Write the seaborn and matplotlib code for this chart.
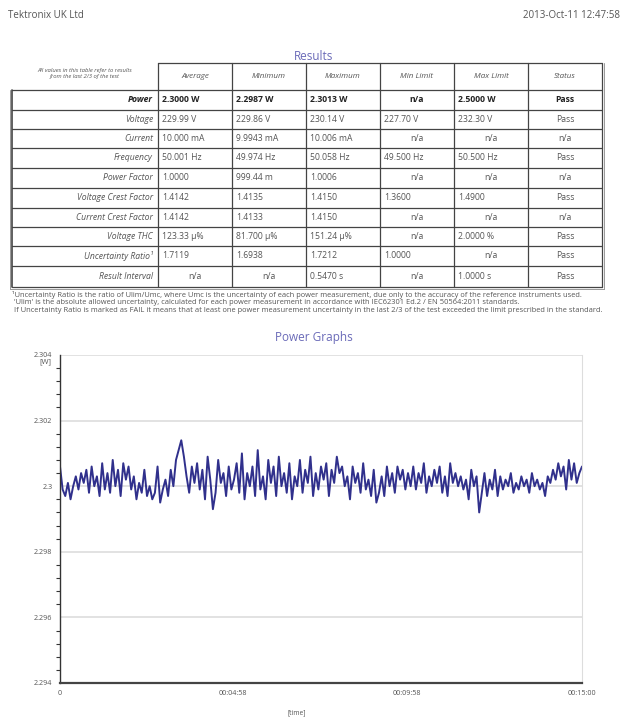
import numpy as np
import pandas as pd
import seaborn as sns
import matplotlib
matplotlib.use("Agg")
import matplotlib.pyplot as plt

# ---- report header ----
company = "Tektronix UK Ltd"
stamp = "2013-Oct-11 12:47:58"

# ---- results table ----
col_names = ["Average", "Minimum", "Maximum", "Min Limit", "Max Limit", "Status"]
row_names = ["Power", "Voltage", "Current", "Frequency", "Power Factor",
             "Voltage Crest Factor", "Current Crest Factor", "Voltage THC",
             "Uncertainty Ratio\u00b9", "Result Interval"]
average = ["2.3000 W", "229.99 V", "10.000 mA", "50.001 Hz", "1.0000", "1.4142",
           "1.4142", "123.33 \u00b5%", "1.7119", "n/a"]
minimum = ["2.2987 W", "229.86 V", "9.9943 mA", "49.974 Hz", "999.44 m", "1.4135",
           "1.4133", "81.700 \u00b5%", "1.6938", "n/a"]
maximum = ["2.3013 W", "230.14 V", "10.006 mA", "50.058 Hz", "1.0006", "1.4150",
           "1.4150", "151.24 \u00b5%", "1.7212", "0.5470 s"]
min_limit = ["n/a", "227.70 V", "n/a", "49.500 Hz", "n/a", "1.3600", "n/a", "n/a",
             "1.0000", "n/a"]
max_limit = ["2.5000 W", "232.30 V", "n/a", "50.500 Hz", "n/a", "1.4900", "n/a",
             "2.0000 %", "n/a", "1.0000 s"]
status = ["Pass", "Pass", "n/a", "Pass", "n/a", "Pass", "n/a", "Pass", "Pass", "Pass"]
corner_note = "All values in this table refer to results\nfrom the last 2/3 of the test"
footnotes = [
    "\u00b9Uncertainty Ratio is the ratio of Ulim/Umc, where Umc is the uncertainty of each power measurement, due only to the accuracy of the reference instruments used.",
    " 'Ulim' is the absolute allowed uncertainty, calculated for each power measurement in accordance with IEC62301 Ed.2 / EN 50564:2011 standards.",
    " If Uncertainty Ratio is marked as FAIL it means that at least one power measurement uncertainty in the last 2/3 of the test exceeded the limit prescribed in the standard.",
]

# ---- power graph ----
power_w = [
    2.3006, 2.2999, 2.2997, 2.3001, 2.2996, 2.3000, 2.3003, 2.2999, 2.3004, 2.3001,
    2.3005, 2.2998, 2.3006, 2.3000, 2.3003, 2.2997, 2.3007, 2.2999, 2.3004, 2.2998,
    2.3008, 2.3000, 2.3005, 2.2997, 2.3007, 2.3002, 2.3006, 2.2999, 2.3003, 2.2996,
    2.3001, 2.2998, 2.3005, 2.2997,
    2.3000, 2.2996, 2.2998, 2.3006, 2.2995, 2.2999, 2.3002, 2.2997, 2.3005, 2.3000,
    2.3008, 2.3011, 2.3014, 2.3009, 2.3003, 2.2998, 2.3006, 2.3001, 2.3007, 2.2999,
    2.3005, 2.2996, 2.3009, 2.3002, 2.2993, 2.2998, 2.3008, 2.3001, 2.3004, 2.2997,
    2.3006, 2.2999, 2.3002,
    2.3007, 2.2998, 2.3010, 2.2996, 2.3004, 2.3000, 2.3006, 2.2997, 2.3011, 2.2999,
    2.3003, 2.2996, 2.3008, 2.3001, 2.3006, 2.2997, 2.3009, 2.3000, 2.3004, 2.2998,
    2.3007, 2.2996, 2.3003, 2.3000, 2.3008, 2.2998, 2.3005, 2.3001, 2.3009, 2.2997,
    2.3004, 2.2999, 2.3006,
    2.3002, 2.3007, 2.2997, 2.3005, 2.3001, 2.3009, 2.3004, 2.3006, 2.3000, 2.3003,
    2.2996, 2.3006, 2.3001, 2.3004, 2.2998, 2.3007, 2.2999, 2.3002, 2.2997, 2.3005,
    2.2995, 2.2998, 2.3003, 2.2997, 2.3006, 2.3000, 2.3004, 2.2998, 2.3006, 2.3002,
    2.3005, 2.2999, 2.3004,
    2.3000, 2.3006, 2.2999, 2.3004, 2.3001, 2.3007, 2.2998, 2.3003, 2.3000, 2.3005,
    2.3001, 2.3006, 2.2998, 2.3003, 2.2997, 2.3007, 2.3001, 2.3004, 2.3000, 2.3003,
    2.2999, 2.3002, 2.2996, 2.3005, 2.3000, 2.3003, 2.2992, 2.2998, 2.3004, 2.2997,
    2.3002, 2.2999, 2.3005,
    2.2997, 2.3003, 2.2999, 2.3002, 2.3000, 2.3004, 2.2998, 2.3001, 2.2999, 2.3003,
    2.3000, 2.3002, 2.2998, 2.3004, 2.3000, 2.3002, 2.2999, 2.3001, 2.2997, 2.3003,
    2.3001, 2.3005, 2.3002, 2.3007, 2.3003, 2.3006, 2.2999, 2.3008, 2.3002, 2.3007,
    2.3001, 2.3004, 2.3006,
]
test_length_s = 900
x_ticks = [0, 298, 598, 900]
x_tick_labels = ["0", "00:04:58", "00:09:58", "00:15:00"]
y_ticks = [2.294, 2.296, 2.298, 2.300, 2.302, 2.304]
y_tick_labels = ["2.294", "2.296", "2.298", "2.3", "2.302", "2.304"]

sns.set_style("white")
plt.rcParams['font.family'] = ['Open Sans', 'DejaVu Sans']

W, H = 628, 719
fig = plt.figure(figsize=(W / 100, H / 100), dpi=100)
txt = "#555555"
blue = "#6a6ab8"

# page overlay in pixel units for header + table
page = fig.add_axes([0, 0, 1, 1])
page.set_xlim(0, W)
page.set_ylim(H, 0)
page.axis("off")

page.text(8, 15, company, fontsize=7, color=txt, va="center")
page.text(620, 15, stamp, fontsize=7, color=txt, va="center", ha="right")
page.text(314, 57, "Results", fontsize=8.5, color=blue, va="center", ha="center")

col_edges = [12, 158, 232, 306, 380, 454, 528, 602]
row_edges = [90, 110, 129, 148, 168, 188, 208, 227, 246, 266, 287]
head_top = 63
lc = "#444444"

# header boxes (no box over the corner cell)
page.plot([col_edges[1], col_edges[-1]], [head_top, head_top], color=lc, lw=0.9)
for x in col_edges[1:]:
    page.plot([x, x], [head_top, row_edges[-1]], color=lc, lw=0.9)
page.plot([col_edges[-1] + 2, col_edges[-1] + 2], [head_top, row_edges[-1] + 2], color="#999999", lw=0.7)
page.plot([col_edges[0], col_edges[0]], [row_edges[0], row_edges[-1]], color=lc, lw=1.2)
page.plot([col_edges[0] - 2, col_edges[0] - 2], [row_edges[0], row_edges[-1] + 2], color="#999999", lw=0.7)
page.plot([col_edges[0] - 2, col_edges[-1] + 2], [row_edges[-1] + 2, row_edges[-1] + 2], color="#999999", lw=0.7)
for y in row_edges:
    page.plot([col_edges[0], col_edges[-1]], [y, y], color=lc, lw=0.9)

page.text(col_edges[1] - 73, (head_top + row_edges[0]) / 2 - 3, corner_note, fontsize=4.2,
          color=txt, ha="center", va="center", style="italic", linespacing=1.3)
for j, name in enumerate(col_names):
    cx = (col_edges[j + 1] + col_edges[j + 2]) / 2
    page.text(cx, (head_top + row_edges[0]) / 2, name, fontsize=5.8, color=txt,
              ha="center", va="center", style="italic")

columns = [average, minimum, maximum, min_limit, max_limit, status]
for i, rname in enumerate(row_names):
    cy = (row_edges[i] + row_edges[i + 1]) / 2
    bold = "bold" if i == 0 else "normal"
    tc = "#222222" if i == 0 else txt
    page.text(col_edges[1] - 5, cy, rname, fontsize=6.2, color=tc,
              ha="right", va="center", style="italic", weight=bold)
    for j, col in enumerate(columns):
        val = col[i]
        left = col_edges[j + 1]
        right = col_edges[j + 2]
        if j == 5 or val == "n/a":
            page.text((left + right) / 2, cy, val, fontsize=6.2, ha="center", va="center",
                      color=tc, weight=bold)
        else:
            page.text(left + 4, cy, val, fontsize=6.2, ha="left", va="center",
                      color=tc, weight=bold)

for k, note in enumerate(footnotes):
    page.text(12, 295 + k * 8, note, fontsize=5.4, color=txt, va="center")

page.text(314, 338, "Power Graphs", fontsize=8.5, color=blue, va="center", ha="center")
page.text(45, 362, "[W]", fontsize=5.5, color=txt, ha="center", va="center")
page.text(297, 713, "[time]", fontsize=4.8, color=txt, ha="center", va="center")

# ---- the graph ----
ax = fig.add_axes([60 / W, 1 - 683 / H, 522 / W, (683 - 355) / H])
df = pd.DataFrame({"t": np.linspace(0, test_length_s, len(power_w)), "p": power_w})
sns.lineplot(data=df, x="t", y="p", ax=ax, color="#30308c", lw=1.4)
ax.set_xlim(0, test_length_s)
ax.set_ylim(2.294, 2.304)
ax.set_xticks(x_ticks)
ax.set_xticklabels(x_tick_labels, fontsize=5.2, color=txt)
ax.set_yticks(y_ticks)
ax.set_yticklabels(y_tick_labels, fontsize=5.2, color=txt)
ax.set_yticks(np.arange(2.294, 2.3041, 0.0004), minor=True)
ax.tick_params(axis="y", which="major", length=4, width=0.8, color="#333333", pad=1.5)
ax.tick_params(axis="y", which="minor", length=3, width=0.8, color="#333333", left=True)
ax.tick_params(axis="x", length=0, pad=5)
ax.grid(axis="y", which="major", color="#dddddd", lw=1.2)
ax.set_axisbelow(True)
ax.set_xlabel("")
ax.set_ylabel("")
ax.spines["top"].set_visible(False)
ax.spines["right"].set_color("#dddddd")
ax.spines["left"].set_color("#333333")
ax.spines["left"].set_linewidth(1.0)
ax.spines["bottom"].set_color("#444444")
ax.spines["bottom"].set_linewidth(1.6)

fig.savefig("out.png", dpi=100)
